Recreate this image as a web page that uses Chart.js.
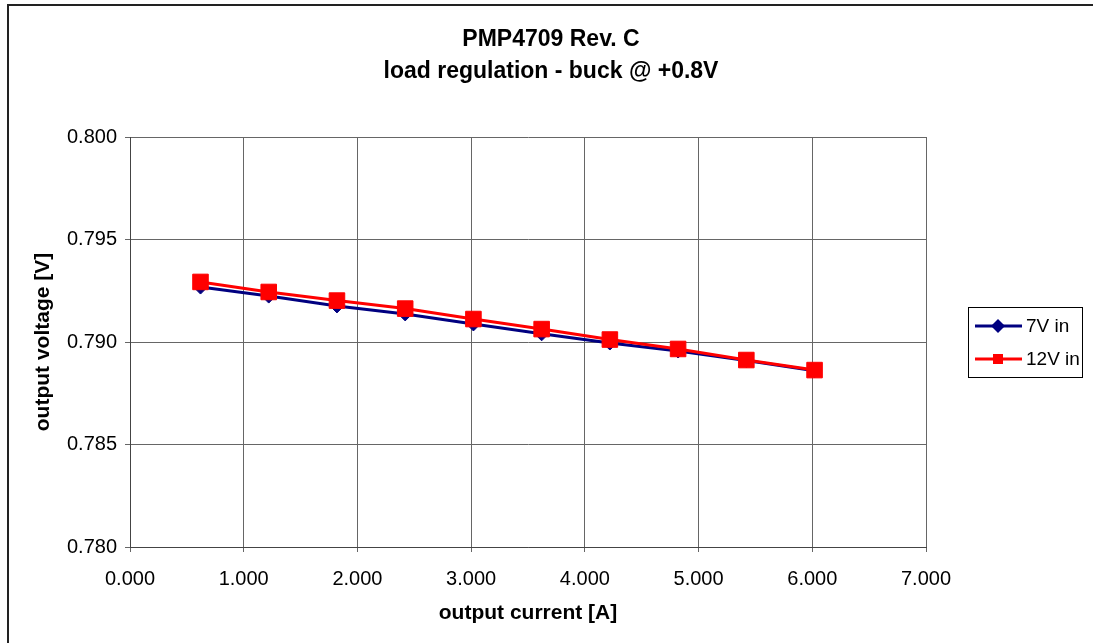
<!DOCTYPE html>
<html lang="en">
<head>
    <title>PMP4709 Rev. C load regulation</title>
    <script src="https://cdn.jsdelivr.net/npm/chart.js"></script>
    <style>
        body { margin: 0; background: #fff; }
    </style>
</head>
<body>
<canvas id="loadRegChart" width="1093" height="643"></canvas>

<script>
    const currents = [0.62, 1.22, 1.82, 2.42, 3.02, 3.62, 4.22, 4.82, 5.42, 6.02];
    const vout7V = [0.79268, 0.79224, 0.79176, 0.79137, 0.79088, 0.79040, 0.78995, 0.78956, 0.78910, 0.78860];
    const vout12V = [0.79293, 0.79244, 0.79202, 0.79163, 0.79112, 0.79063, 0.79012, 0.78966, 0.78912, 0.78863];
    const seriesNames = ['7V in', '12V in'];
    const titleLines = ['PMP4709 Rev. C', 'load regulation - buck @ +0.8V'];

    const FONT = '"Liberation Sans", Arial, sans-serif';

    function toPoints(ys) {
        return currents.map((x, i) => ({x: x, y: ys[i]}));
    }

    // outer frame, page-centred title and boxed legend
    const framePlugin = {
        id: 'frame',
        beforeDraw(chart) {
            const ctx = chart.ctx;
            ctx.save();
            ctx.fillStyle = '#fff';
            ctx.fillRect(0, 0, chart.width, chart.height);
            ctx.strokeStyle = '#222';
            ctx.lineWidth = 2;
            ctx.strokeRect(8, 5, chart.width + 20, chart.height + 20);
            ctx.restore();
        },
        afterDraw(chart) {
            const ctx = chart.ctx;
            ctx.save();

            ctx.fillStyle = '#000';
            ctx.font = 'bold 23px ' + FONT;
            ctx.textAlign = 'center';
            ctx.textBaseline = 'middle';
            ctx.fillText(titleLines[0], 551, 40);
            ctx.fillText(titleLines[1], 551, 72);

            const box = {x: 968.5, y: 307.5, w: 114, h: 70};
            ctx.fillStyle = '#fff';
            ctx.fillRect(box.x, box.y, box.w, box.h);
            ctx.strokeStyle = '#000';
            ctx.lineWidth = 1;
            ctx.strokeRect(box.x, box.y, box.w, box.h);

            ctx.font = '19px ' + FONT;
            ctx.textAlign = 'left';
            const rows = [326, 359];
            chart.data.datasets.forEach((ds, i) => {
                const y = rows[i];
                ctx.strokeStyle = ds.borderColor;
                ctx.lineWidth = 3;
                ctx.beginPath();
                ctx.moveTo(975, y);
                ctx.lineTo(1022, y);
                ctx.stroke();
                ctx.fillStyle = ds.borderColor;
                ctx.beginPath();
                if (ds.pointStyle === 'rectRot') {
                    ctx.moveTo(998, y - 7);
                    ctx.lineTo(1005, y);
                    ctx.lineTo(998, y + 7);
                    ctx.lineTo(991, y);
                } else {
                    ctx.rect(993, y - 5, 10, 10);
                }
                ctx.closePath();
                ctx.fill();
                ctx.fillStyle = '#000';
                ctx.fillText(ds.label, 1026, y + 1);
            });
            ctx.restore();
        }
    };

    const ctx = document.getElementById('loadRegChart').getContext('2d');
    new Chart(ctx, {
        type: 'line',
        data: {
            datasets: [{
                label: seriesNames[0],
                data: toPoints(vout7V),
                borderColor: '#000080',
                backgroundColor: '#000080',
                borderWidth: 3,
                pointStyle: 'rectRot',
                pointRadius: 7,
                pointBorderWidth: 1,
                tension: 0,
                order: 2
            }, {
                label: seriesNames[1],
                data: toPoints(vout12V),
                borderColor: '#ff0000',
                backgroundColor: '#ff0000',
                borderWidth: 3,
                pointStyle: 'rect',
                pointRadius: 11,
                pointBorderWidth: 1,
                tension: 0,
                order: 1
            }]
        },
        options: {
            responsive: false,
            animation: false,
            devicePixelRatio: 1,
            layout: {
                padding: {top: 137, right: 167, bottom: 0, left: 0}
            },
            plugins: {
                legend: {display: false},
                tooltip: {enabled: false},
                title: {display: false}
            },
            scales: {
                x: {
                    type: 'linear',
                    min: 0,
                    max: 7,
                    afterFit(scale) { scale.height = 96; },
                    ticks: {
                        stepSize: 1,
                        color: '#000',
                        font: {family: FONT, size: 20},
                        padding: 15,
                        maxRotation: 0,
                        callback: v => v.toFixed(3)
                    },
                    grid: {color: '#666', lineWidth: 1, tickLength: 5},
                    border: {color: '#444', width: 1},
                    title: {
                        display: true,
                        text: 'output current [A]',
                        color: '#000',
                        font: {family: FONT, size: 21, weight: 'bold'},
                        padding: {top: 0, bottom: 17}
                    }
                },
                y: {
                    min: 0.78,
                    max: 0.8,
                    afterFit(scale) { scale.width = 130; },
                    ticks: {
                        stepSize: 0.005,
                        color: '#000',
                        font: {family: FONT, size: 20},
                        padding: 8,
                        callback: v => v.toFixed(3)
                    },
                    grid: {color: '#666', lineWidth: 1, tickLength: 5},
                    border: {color: '#444', width: 1},
                    title: {
                        display: true,
                        text: 'output voltage [V]',
                        color: '#000',
                        font: {family: FONT, size: 21, weight: 'bold'},
                        padding: {top: 31, bottom: 0}
                    }
                }
            }
        },
        plugins: [framePlugin]
    });
</script>
</body>
</html>
